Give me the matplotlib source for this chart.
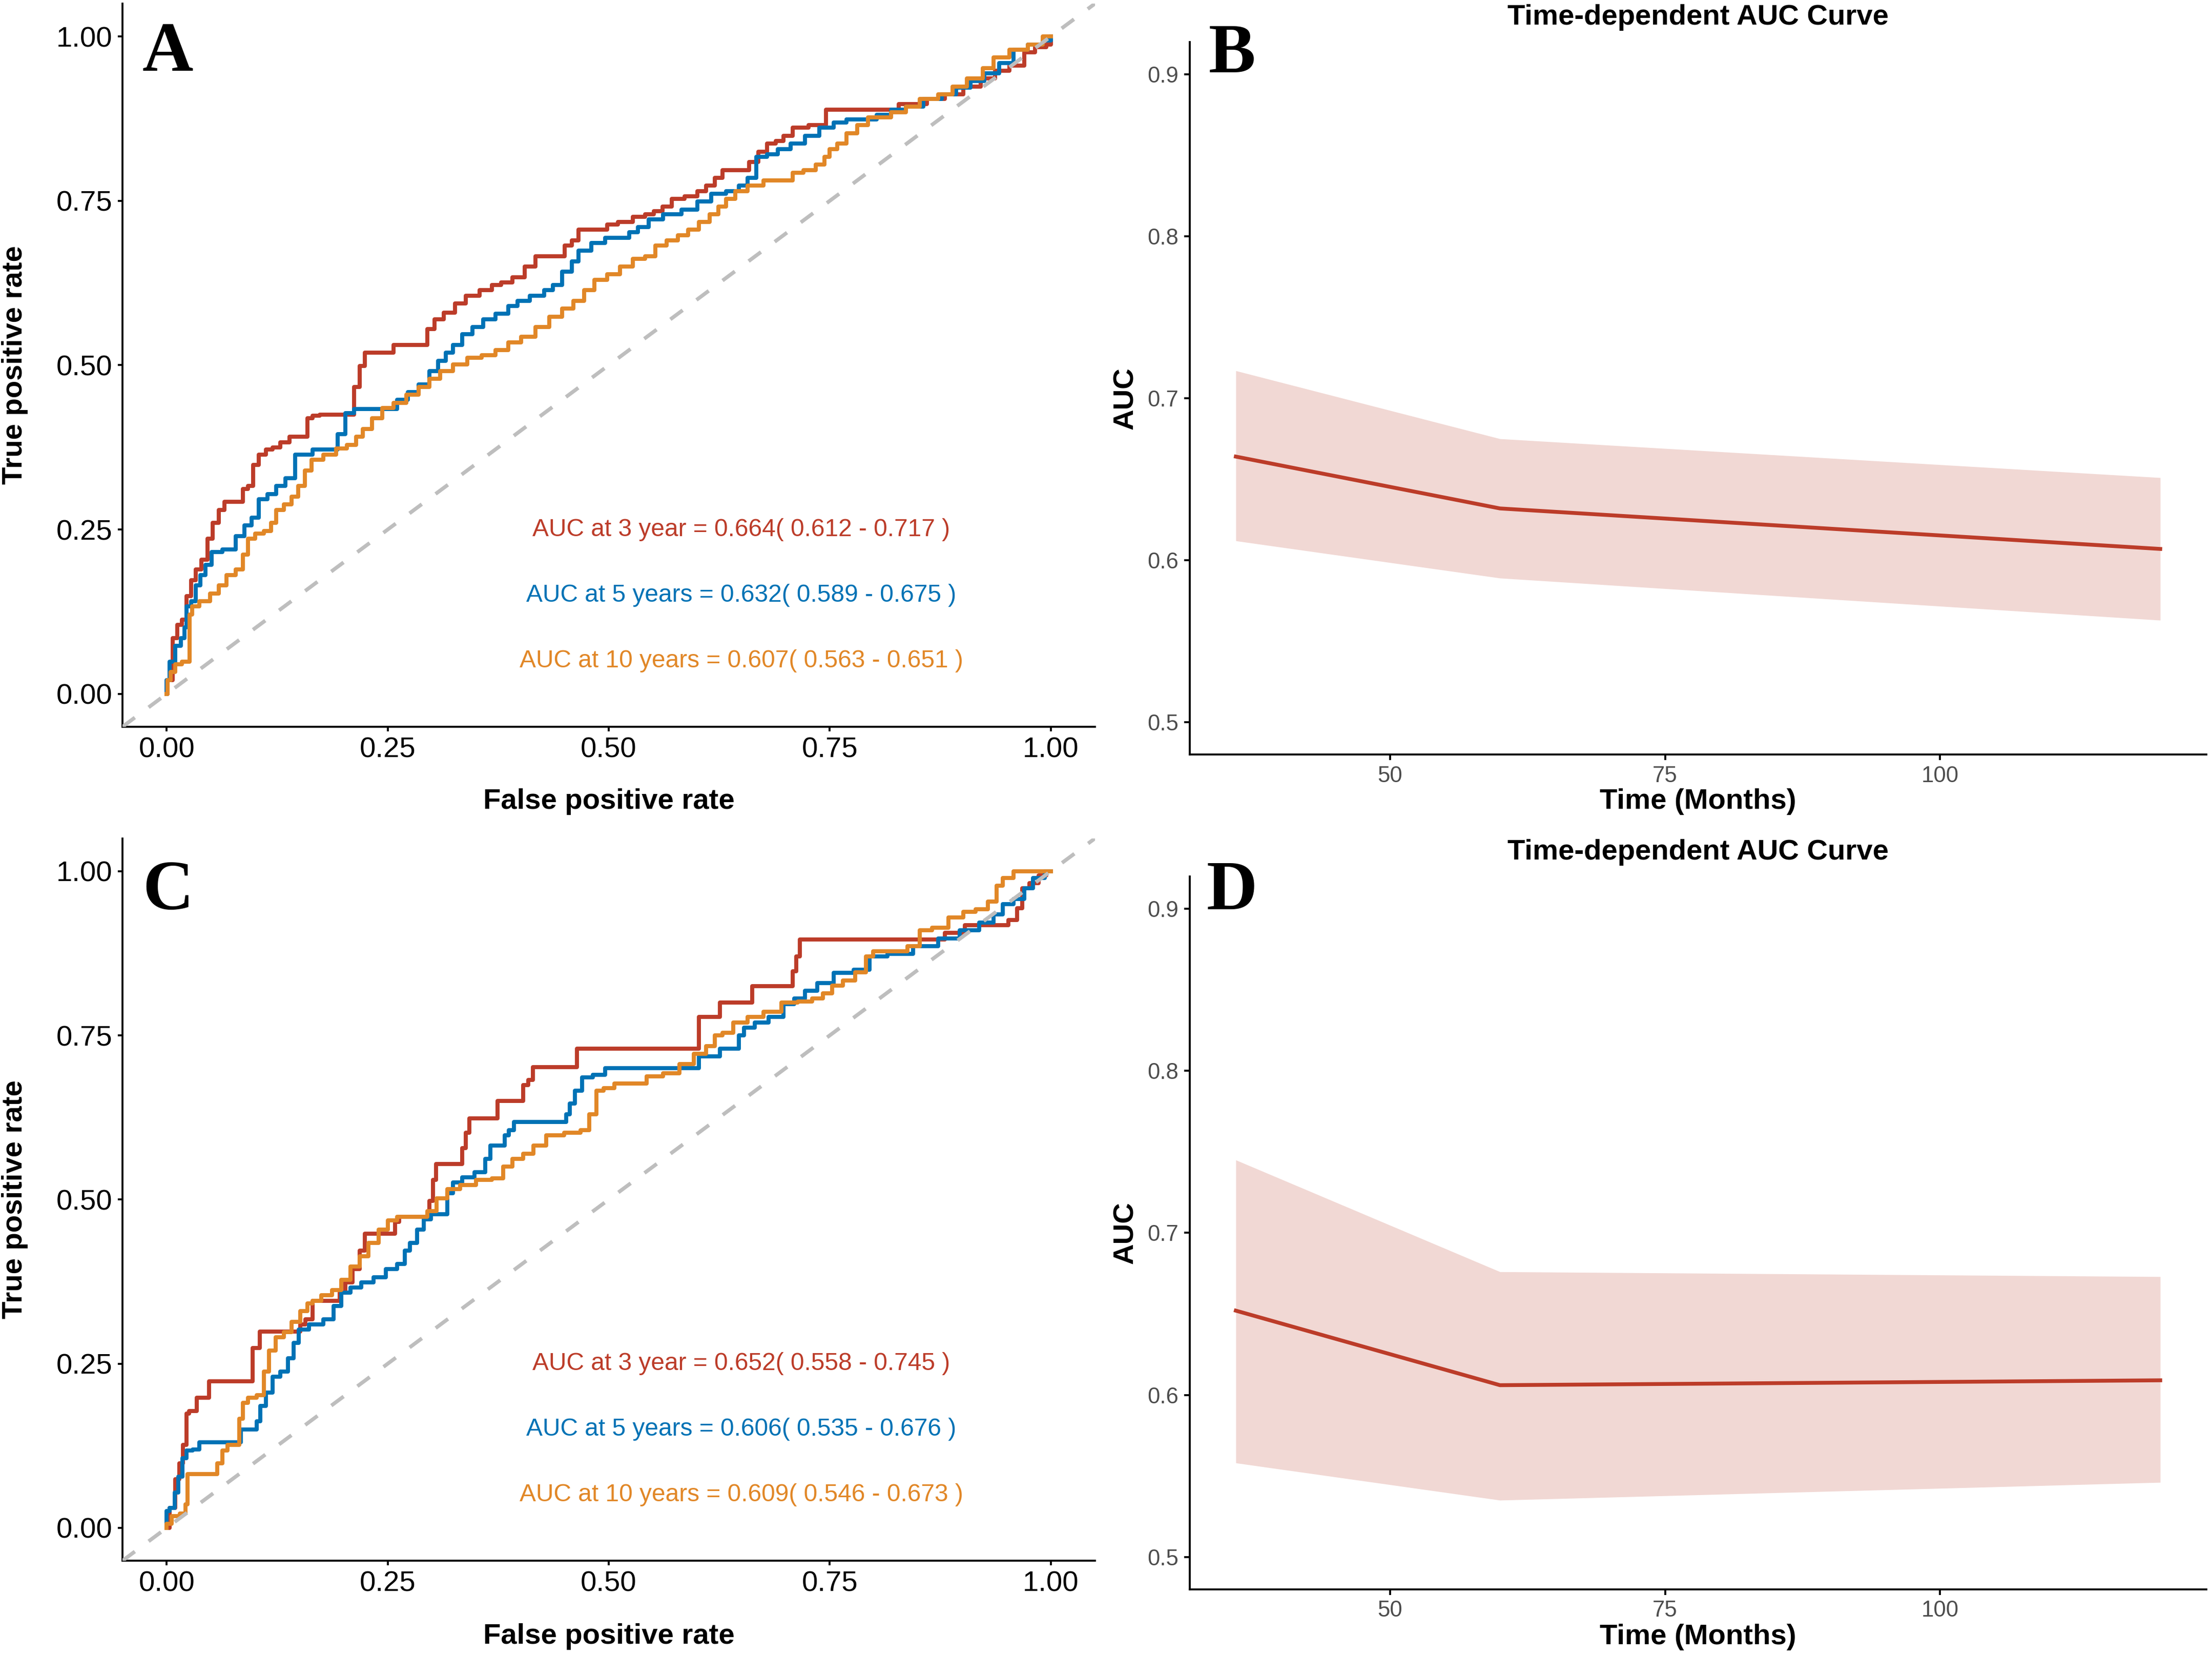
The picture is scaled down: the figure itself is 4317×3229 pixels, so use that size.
import numpy as np
import matplotlib
matplotlib.use("Agg")
import matplotlib.pyplot as plt

plt.rcParams['font.family'] = ['Liberation Sans', 'DejaVu Sans']

RED = "#BC3C29"
BLUE = "#0072B5"
ORANGE = "#E18727"

# time points (months) and labels
times = [36, 60, 120]
time_names = ["3 year", "5 years", "10 years"]

# training set (A/B)
auc_train = [0.664, 0.632, 0.607]
lo_train = [0.612, 0.589, 0.563]
hi_train = [0.717, 0.675, 0.651]

# validation set (C/D)
auc_valid = [0.652, 0.606, 0.609]
lo_valid = [0.558, 0.535, 0.546]
hi_valid = [0.745, 0.676, 0.673]

# ROC curves, (fpr, tpr)
roc_train_3y = [(0, 0), (0.002, 0.021), (0.011, 0.085), (0.013, 0.105), (0.021, 0.113), (0.024, 0.149),
                (0.031, 0.173), (0.035, 0.189), (0.043, 0.204), (0.049, 0.236), (0.055, 0.260), (0.063, 0.280),
                (0.067, 0.292), (0.084, 0.292), (0.088, 0.312), (0.096, 0.316), (0.100, 0.348), (0.108, 0.364),
                (0.116, 0.372), (0.124, 0.375), (0.133, 0.383), (0.145, 0.391), (0.157, 0.391), (0.161, 0.419),
                (0.169, 0.423), (0.177, 0.425), (0.210, 0.425), (0.214, 0.467), (0.222, 0.499), (0.226, 0.519),
                (0.254, 0.519), (0.259, 0.531), (0.291, 0.531), (0.299, 0.555), (0.307, 0.570), (0.320, 0.580),
                (0.332, 0.594), (0.344, 0.606), (0.364, 0.614), (0.372, 0.622), (0.385, 0.626), (0.397, 0.634),
                (0.413, 0.650), (0.421, 0.666), (0.446, 0.666), (0.454, 0.682), (0.462, 0.690), (0.470, 0.706),
                (0.494, 0.706), (0.502, 0.714), (0.519, 0.718), (0.535, 0.726), (0.547, 0.730), (0.555, 0.734),
                (0.567, 0.741), (0.576, 0.753), (0.596, 0.757), (0.604, 0.765), (0.616, 0.773), (0.624, 0.785),
                (0.633, 0.797), (0.653, 0.797), (0.665, 0.809), (0.673, 0.825), (0.685, 0.837), (0.693, 0.841),
                (0.702, 0.849), (0.714, 0.861), (0.738, 0.865), (0.754, 0.889), (0.820, 0.889), (0.836, 0.897),
                (0.852, 0.897), (0.868, 0.905), (0.893, 0.912), (0.909, 0.924), (0.933, 0.936), (0.941, 0.948),
                (0.966, 0.956), (0.974, 0.976), (0.990, 0.984), (1.0, 0.988), (1.0, 1.0)]

roc_train_5y = [(0, 0), (0, 0.021), (0.0065, 0.049), (0.013, 0.073), (0.019, 0.085), (0.021, 0.101),
                (0.024, 0.133), (0.031, 0.141), (0.035, 0.165), (0.041, 0.181), (0.047, 0.196), (0.054, 0.216),
                (0.072, 0.220), (0.084, 0.240), (0.092, 0.256), (0.100, 0.268), (0.108, 0.296), (0.120, 0.304),
                (0.128, 0.316), (0.141, 0.328), (0.149, 0.364), (0.161, 0.364), (0.169, 0.372), (0.189, 0.372),
                (0.198, 0.395), (0.206, 0.427), (0.218, 0.433), (0.254, 0.433), (0.267, 0.447), (0.279, 0.459),
                (0.291, 0.471), (0.303, 0.491), (0.311, 0.507), (0.320, 0.519), (0.328, 0.531), (0.340, 0.547),
                (0.352, 0.558), (0.364, 0.570), (0.380, 0.578), (0.393, 0.590), (0.401, 0.598), (0.421, 0.606),
                (0.433, 0.614), (0.441, 0.622), (0.454, 0.642), (0.462, 0.658), (0.470, 0.674), (0.490, 0.686),
                (0.502, 0.694), (0.519, 0.694), (0.527, 0.702), (0.539, 0.710), (0.551, 0.722), (0.572, 0.730),
                (0.592, 0.737), (0.608, 0.749), (0.624, 0.761), (0.641, 0.765), (0.653, 0.773), (0.661, 0.785),
                (0.673, 0.817), (0.685, 0.821), (0.698, 0.829), (0.714, 0.837), (0.730, 0.849), (0.746, 0.861),
                (0.763, 0.869), (0.775, 0.874), (0.795, 0.874), (0.811, 0.881), (0.828, 0.889), (0.844, 0.893),
                (0.868, 0.905), (0.885, 0.912), (0.901, 0.922), (0.917, 0.932), (0.933, 0.944), (0.950, 0.960),
                (0.966, 0.980), (0.982, 0.988), (1.0, 0.994), (1.0, 1.0)]

roc_train_10y = [(0, 0), (0.002, 0.021), (0.0065, 0.033), (0.013, 0.045), (0.021, 0.049), (0.026, 0.049),
                 (0.026, 0.121), (0.031, 0.133), (0.043, 0.141), (0.055, 0.153), (0.063, 0.165), (0.072, 0.181),
                 (0.084, 0.189), (0.088, 0.212), (0.096, 0.236), (0.104, 0.244), (0.116, 0.248), (0.120, 0.260),
                 (0.128, 0.280), (0.137, 0.288), (0.145, 0.300), (0.153, 0.316), (0.159, 0.340), (0.169, 0.356),
                 (0.185, 0.364), (0.198, 0.373), (0.210, 0.379), (0.218, 0.391), (0.226, 0.403), (0.238, 0.419),
                 (0.250, 0.435), (0.263, 0.443), (0.279, 0.455), (0.291, 0.467), (0.303, 0.479), (0.315, 0.491),
                 (0.332, 0.501), (0.348, 0.511), (0.364, 0.515), (0.380, 0.523), (0.393, 0.535), (0.409, 0.543),
                 (0.425, 0.558), (0.441, 0.574), (0.454, 0.586), (0.466, 0.598), (0.478, 0.614), (0.490, 0.630),
                 (0.507, 0.638), (0.519, 0.650), (0.535, 0.662), (0.547, 0.666), (0.559, 0.682), (0.572, 0.690),
                 (0.584, 0.698), (0.596, 0.706), (0.608, 0.718), (0.620, 0.730), (0.628, 0.741), (0.637, 0.753),
                 (0.649, 0.765), (0.665, 0.773), (0.685, 0.781), (0.702, 0.781), (0.714, 0.793), (0.726, 0.797),
                 (0.742, 0.805), (0.746, 0.817), (0.754, 0.829), (0.763, 0.837), (0.775, 0.853), (0.787, 0.865),
                 (0.799, 0.877), (0.811, 0.877), (0.828, 0.885), (0.844, 0.893), (0.860, 0.905), (0.885, 0.912),
                 (0.893, 0.924), (0.917, 0.936), (0.929, 0.952), (0.941, 0.968), (0.966, 0.980), (0.982, 0.988),
                 (1.0, 1.0)]

roc_valid_3y = [(0, 0), (0.0065, 0.030), (0.013, 0.074), (0.016, 0.098), (0.021, 0.126), (0.024, 0.174),
                (0.027, 0.178), (0.033, 0.178), (0.035, 0.198), (0.047, 0.198), (0.049, 0.223), (0.096, 0.223),
                (0.098, 0.274), (0.104, 0.274), (0.106, 0.299), (0.149, 0.299), (0.153, 0.310), (0.161, 0.318),
                (0.169, 0.346), (0.193, 0.346), (0.198, 0.358), (0.206, 0.374), (0.214, 0.394), (0.222, 0.422),
                (0.226, 0.448), (0.254, 0.448), (0.263, 0.466), (0.263, 0.474), (0.295, 0.474), (0.299, 0.498),
                (0.303, 0.530), (0.306, 0.554), (0.332, 0.554), (0.336, 0.578), (0.341, 0.602), (0.344, 0.624),
                (0.372, 0.624), (0.376, 0.650), (0.401, 0.650), (0.405, 0.674), (0.413, 0.682), (0.415, 0.702),
                (0.462, 0.702), (0.466, 0.730), (0.600, 0.730), (0.604, 0.778), (0.624, 0.778), (0.627, 0.800),
                (0.661, 0.800), (0.663, 0.825), (0.706, 0.825), (0.710, 0.848), (0.714, 0.870), (0.718, 0.896),
                (0.876, 0.896), (0.885, 0.906), (0.901, 0.906), (0.905, 0.918), (0.946, 0.918), (0.958, 0.926),
                (0.966, 0.944), (0.970, 0.974), (0.982, 0.982), (0.990, 0.994), (1.0, 1.0)]

roc_valid_5y = [(0, 0), (0, 0.026), (0.0065, 0.030), (0.011, 0.054), (0.015, 0.078), (0.021, 0.106),
                (0.024, 0.118), (0.035, 0.119), (0.039, 0.130), (0.080, 0.130), (0.088, 0.150), (0.100, 0.150),
                (0.104, 0.162), (0.108, 0.186), (0.116, 0.206), (0.124, 0.230), (0.133, 0.238), (0.141, 0.258),
                (0.146, 0.282), (0.153, 0.302), (0.169, 0.310), (0.185, 0.318), (0.193, 0.338), (0.202, 0.358),
                (0.214, 0.366), (0.226, 0.374), (0.242, 0.382), (0.254, 0.394), (0.267, 0.402), (0.271, 0.422),
                (0.279, 0.434), (0.287, 0.454), (0.295, 0.470), (0.303, 0.478), (0.315, 0.478), (0.320, 0.510),
                (0.328, 0.526), (0.340, 0.534), (0.356, 0.542), (0.364, 0.562), (0.368, 0.582), (0.380, 0.582),
                (0.385, 0.598), (0.389, 0.606), (0.397, 0.618), (0.450, 0.618), (0.454, 0.630), (0.458, 0.646),
                (0.466, 0.666), (0.474, 0.686), (0.490, 0.690), (0.502, 0.700), (0.600, 0.700), (0.604, 0.718),
                (0.624, 0.718), (0.628, 0.730), (0.645, 0.730), (0.649, 0.750), (0.657, 0.762), (0.673, 0.770),
                (0.689, 0.778), (0.706, 0.798), (0.714, 0.806), (0.730, 0.818), (0.742, 0.830), (0.767, 0.845),
                (0.787, 0.850), (0.803, 0.870), (0.828, 0.874), (0.860, 0.886), (0.885, 0.898), (0.909, 0.910),
                (0.929, 0.922), (0.941, 0.934), (0.950, 0.950), (0.966, 0.958), (0.974, 0.974), (0.986, 0.990),
                (1.0, 1.0)]

roc_valid_10y = [(0, 0), (0, 0.006), (0.011, 0.018), (0.019, 0.022), (0.023, 0.036), (0.024, 0.082),
                 (0.055, 0.082), (0.059, 0.098), (0.067, 0.118), (0.070, 0.126), (0.080, 0.126), (0.084, 0.166),
                 (0.088, 0.190), (0.096, 0.198), (0.108, 0.202), (0.112, 0.238), (0.119, 0.270), (0.128, 0.290),
                 (0.137, 0.298), (0.145, 0.314), (0.157, 0.330), (0.161, 0.342), (0.169, 0.346), (0.181, 0.354),
                 (0.193, 0.362), (0.202, 0.378), (0.214, 0.398), (0.222, 0.414), (0.234, 0.434), (0.246, 0.454),
                 (0.254, 0.468), (0.267, 0.474), (0.291, 0.474), (0.299, 0.482), (0.311, 0.502), (0.324, 0.516),
                 (0.340, 0.522), (0.360, 0.530), (0.376, 0.532), (0.385, 0.550), (0.397, 0.562), (0.409, 0.570),
                 (0.421, 0.582), (0.437, 0.598), (0.462, 0.602), (0.474, 0.606), (0.482, 0.630), (0.490, 0.666),
                 (0.498, 0.670), (0.515, 0.677), (0.535, 0.677), (0.551, 0.688), (0.572, 0.692), (0.588, 0.706),
                 (0.604, 0.722), (0.616, 0.734), (0.624, 0.750), (0.633, 0.754), (0.649, 0.770), (0.665, 0.778),
                 (0.685, 0.786), (0.706, 0.800), (0.722, 0.802), (0.738, 0.806), (0.746, 0.814), (0.759, 0.826),
                 (0.771, 0.834), (0.787, 0.846), (0.795, 0.870), (0.803, 0.878), (0.828, 0.878), (0.848, 0.886),
                 (0.856, 0.910), (0.876, 0.914), (0.893, 0.930), (0.909, 0.938), (0.921, 0.942), (0.937, 0.954),
                 (0.941, 0.978), (0.950, 0.990), (0.966, 1.0), (1.0, 1.0)]

roc_ticks = [0, 0.25, 0.5, 0.75, 1.0]
roc_tick_labels = ["0.00", "0.25", "0.50", "0.75", "1.00"]
auc_yticks = [0.5, 0.6, 0.7, 0.8, 0.9]
auc_ytick_labels = ["0.5", "0.6", "0.7", "0.8", "0.9"]
auc_xticks = [50, 75, 100]


def draw_roc(ax, curves, auc, lo, hi):
    colors = [RED, BLUE, ORANGE]
    for pts, c in zip(curves, colors):
        xy = np.array(pts)
        ax.plot(xy[:, 0], xy[:, 1], color=c, lw=1.9, drawstyle="steps-mid")
    ax.axline((0, 0), slope=1, color="#BEBEBE", lw=1.75, ls=(0, (4.1, 4.6)), zorder=5)
    for i, c in enumerate(colors):
        txt = f"AUC at {time_names[i]} = {auc[i]:.3f}( {lo[i]:.3f} - {hi[i]:.3f} )"
        ax.text(0.65, 0.25 - 0.1 * i, txt, color=c, fontsize=11.5, ha="center", va="center")
    ax.set_xlim(-0.05, 1.05)
    ax.set_ylim(-0.05, 1.05)
    ax.set_xticks(roc_ticks, roc_tick_labels)
    ax.set_yticks(roc_ticks, roc_tick_labels)
    ax.tick_params(labelsize=13.5, length=2.2, width=0.9, pad=2.5, colors="black")
    ax.set_xlabel("False positive rate", fontsize=13.5, fontweight="bold", va="center")
    ax.set_ylabel("True positive rate", fontsize=13.5, fontweight="bold", va="center")
    ax.yaxis.set_label_coords(-0.111, 0.5)
    for s in ["top", "right"]:
        ax.spines[s].set_visible(False)
    for s in ["left", "bottom"]:
        ax.spines[s].set_linewidth(0.9)


def draw_auc(ax, auc, lo, hi):
    ax.fill_between(times, lo, hi, color=RED, alpha=0.2, lw=0)
    ax.plot(times, auc, color=RED, lw=1.8)
    ax.set_xlim(31.8, 124.2)
    ax.set_ylim(0.48, 0.92)
    ax.set_xticks(auc_xticks)
    ax.set_yticks(auc_yticks, auc_ytick_labels)
    ax.tick_params(labelsize=10.5, length=2.7, width=0.9, pad=2.4, colors="black", labelcolor="#4D4D4D")
    ax.set_title("Time-dependent AUC Curve", fontsize=13.5, fontweight="bold", pad=8)
    ax.set_xlabel("Time (Months)", fontsize=13.5, fontweight="bold", va="center")
    ax.set_ylabel("AUC", fontsize=13.5, fontweight="bold", va="center")
    ax.yaxis.set_label_coords(-0.063, 0.5)
    for s in ["top", "right"]:
        ax.spines[s].set_visible(False)
    for s in ["left", "bottom"]:
        ax.spines[s].set_linewidth(0.9)


fig = plt.figure(figsize=(4317 / 300, 3229 / 300), dpi=300)

ax_a = fig.add_axes([0.0554, 0.5609, 0.4396, 0.4369])
ax_c = fig.add_axes([0.0554, 0.0570, 0.4396, 0.4364])
ax_b = fig.add_axes([0.5378, 0.5440, 0.4597, 0.4307])
ax_d = fig.add_axes([0.5378, 0.0397, 0.4597, 0.4307])

draw_roc(ax_a, [roc_train_3y, roc_train_5y, roc_train_10y], auc_train, lo_train, hi_train)
draw_roc(ax_c, [roc_valid_3y, roc_valid_5y, roc_valid_10y], auc_valid, lo_valid, hi_valid)
ax_a.xaxis.set_label_coords(0.5, -0.1035)
ax_c.xaxis.set_label_coords(0.5, -0.105)

draw_auc(ax_b, auc_train, lo_train, hi_train)
draw_auc(ax_d, auc_valid, lo_valid, hi_valid)
ax_b.xaxis.set_label_coords(0.5, -0.0658)
ax_d.xaxis.set_label_coords(0.5, -0.0667)

letter_font = dict(fontsize=33, fontweight="bold", family=["Liberation Serif", "DejaVu Serif"], va="baseline")
fig.text(0.0644, 0.9573, "A", **letter_font)
fig.text(0.5465, 0.9563, "B", **letter_font)
fig.text(0.0644, 0.4506, "C", **letter_font)
fig.text(0.5455, 0.4506, "D", **letter_font)

fig.savefig("out.png", dpi=300)
